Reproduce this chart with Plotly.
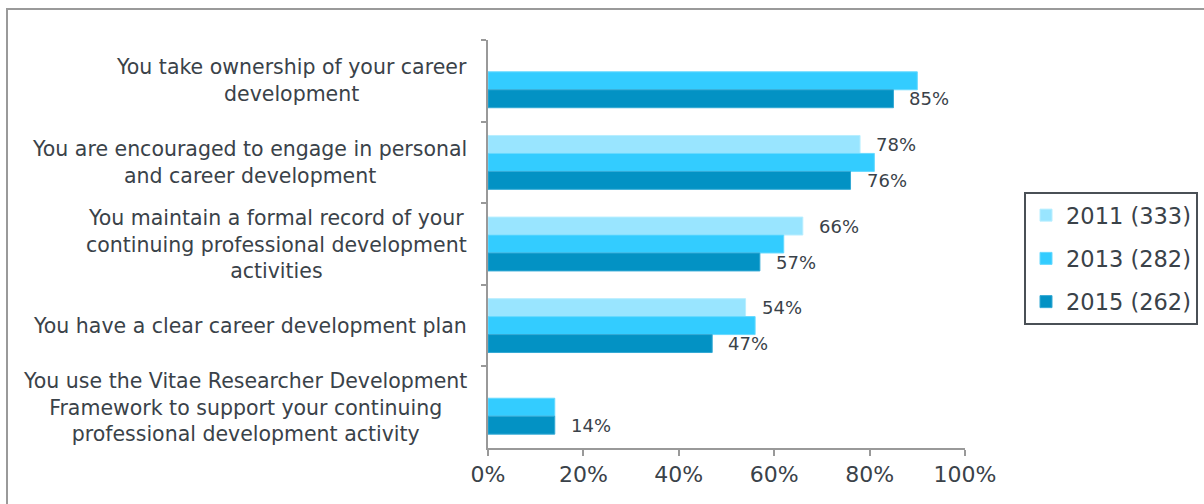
import plotly.graph_objects as go

# Survey statements (top to bottom) and responses per survey year (%)
categories = [
    "You take ownership of your career<br>development",
    "You are encouraged to engage in personal<br>and career development",
    "You maintain a formal record of your<br>continuing professional development<br>activities",
    "You have a clear career development plan",
    "You use the Vitae Researcher Development<br>Framework to support your continuing<br>professional development activity",
]
series_names = ["2011 (333)", "2013 (282)", "2015 (262)"]
values_2011 = [None, 78, 66, 54, None]
values_2013 = [90, 81, 62, 56, 14]
values_2015 = [85, 76, 57, 47, 14]
labelled_2011 = [False, True, True, True, False]
labelled_2015 = [True, True, True, True, True]
x_ticks = [0, 20, 40, 60, 80, 100]
x_tick_labels = ["0%", "20%", "40%", "60%", "80%", "100%"]

colors = ["#99e5ff", "#33ccff", "#0392c4"]
edge = ["#b8eeff", "#66d9ff", "#33a9d4"]
text_color = "#3a4249"
axis_color = "#999999"
font_family = "DejaVu Sans"

cat_keys = [f"c{i}" for i in range(len(categories))]

fig = go.Figure()
for name, vals, col, ec in zip(series_names, [values_2011, values_2013, values_2015], colors, edge):
    fig.add_trace(go.Bar(
        y=cat_keys, x=vals, orientation="h", name=name, legendgroup=name,
        marker=dict(color=col, line=dict(color=ec, width=1)),
        hoverinfo="skip",
    ))

# value labels to the right of the 2011 and 2015 bars
bar_px = 18
for vals, flags, shift in [(values_2011, labelled_2011, bar_px), (values_2015, labelled_2015, -bar_px)]:
    for key, v, f in zip(cat_keys, vals, flags):
        if f and v is not None:
            fig.add_annotation(
                x=v, y=key, xref="x", yref="y", text=f"{v}%", showarrow=False,
                xanchor="left", yanchor="middle", xshift=14, yshift=shift,
                font=dict(family=font_family, size=18, color=text_color),
            )

# category labels, centred line by line
for key, label in zip(cat_keys, categories):
    fig.add_annotation(
        x=0, y=key, xref="paper", yref="y", text=label, showarrow=False,
        xanchor="right", yanchor="middle", xshift=-19, align="center",
        font=dict(family=font_family, size=20.5, color=text_color),
    )

L, R, T, B = 488, 965, 40, 448
W, H = 1204, 504
pw, ph = R - L, B - T

def px_x(p):
    return (p - L) / pw

def px_y(p):
    return (B - p) / ph

# outer frame
fig.add_shape(type="rect", xref="paper", yref="paper",
              x0=px_x(7), x1=px_x(1215), y0=px_y(9), y1=px_y(515),
              line=dict(color="#9a9a9a", width=2), fillcolor="rgba(0,0,0,0)")

fig.update_layout(
    width=W, height=H,
    margin=dict(l=L, r=W - R, t=T, b=H - B, autoexpand=False),
    paper_bgcolor="white", plot_bgcolor="white",
    barmode="group", bargap=0.34, bargroupgap=0,
    font=dict(family=font_family, color=text_color),
    showlegend=True,
    legend=dict(
        x=px_x(1024), y=px_y(192), xanchor="left", yanchor="top",
        bordercolor="#4a5056", borderwidth=2, bgcolor="white",
        font=dict(family=font_family, size=22.5, color=text_color),
        tracegroupgap=11, itemwidth=30,
    ),
    xaxis=dict(
        range=[0, 100], tickvals=x_ticks, ticktext=x_tick_labels,
        showgrid=False, zeroline=False, showline=True, linecolor=axis_color, linewidth=2,
        ticks="outside", ticklen=6, tickwidth=2, tickcolor=axis_color,
        tickfont=dict(family=font_family, size=22, color=text_color),
        fixedrange=True,
    ),
    yaxis=dict(
        categoryorder="array", categoryarray=cat_keys, autorange="reversed",
        showgrid=False, zeroline=False, showline=True, linecolor=axis_color, linewidth=2,
        ticks="outside", tickson="boundaries", ticklen=5, tickwidth=2, tickcolor=axis_color,
        showticklabels=False, fixedrange=True,
    ),
)

fig.write_html("out.html")
